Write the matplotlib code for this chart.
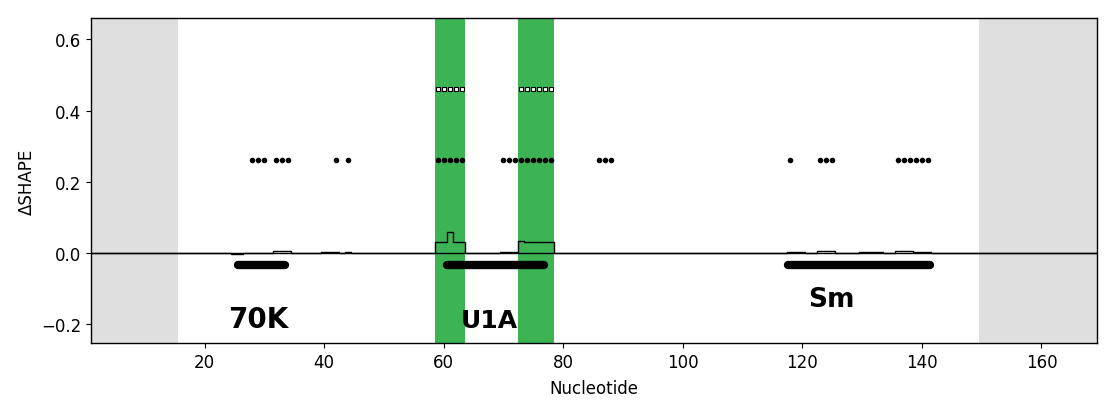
import numpy as np
import matplotlib.pyplot as plt

# nukleotidai su pokyciu (kiti = 0)
delta_nt = [25, 26, 27, 28, 29, 30, 31, 32, 33, 34, 40, 41, 42, 44,
            59, 60, 61, 62, 63, 70, 71, 72, 73, 74, 75, 76, 77, 78,
            118, 119, 120, 123, 124, 125, 130, 131, 132, 133,
            136, 137, 138, 139, 140, 141]
delta_val = [-0.003, -0.003, 0.001, 0.001, 0.001, 0.001, 0.001, 0.005, 0.005, 0.005, 0.002, 0.002, 0.002, 0.002,
             0.030, 0.030, 0.060, 0.030, 0.030, 0.002, 0.004, 0.004, 0.033, 0.030, 0.030, 0.030, 0.030, 0.030,
             0.002, 0.002, 0.002, 0.005, 0.005, 0.005, 0.002, 0.002, 0.002, 0.002,
             0.005, 0.005, 0.005, 0.002, 0.002, 0.002]

# reiksmingi taskai
dot_nt = [28, 29, 30, 32, 33, 34, 42, 44, 59, 60, 61, 62, 63,
          70, 71, 72, 73, 74, 75, 76, 77, 78, 86, 87, 88,
          118, 123, 124, 125, 136, 137, 138, 139, 140, 141]
square_nt = [59, 60, 61, 62, 63, 73, 74, 75, 76, 77, 78]
dot_y = 0.26
square_y = 0.46

# zalios juostos ir pilkos sritys
green_spans = [(58.5, 63.5), (72.5, 78.5)]
gray_spans = [(0, 15.5), (149.5, 175)]

# rankiniu budu pazymetos sritys
site_lines = [(25.6, 33.4), (60.6, 76.8), (117.6, 141.4)]
site_labels = ['70K', 'U1A', 'Sm']
label_x = [29, 67.7, 124.9]
label_y = [-0.185, -0.187, -0.13]
label_size = [20, 18, 19]

nt = np.arange(0, 172)
vals = np.zeros(len(nt))
vals[delta_nt] = delta_val

fig = plt.figure(figsize=(11.15, 4.14), dpi=100)
ax = fig.add_axes([0.0816, 0.169, 0.9023, 0.785])

for a, b in gray_spans:
    ax.axvspan(a, b, color='#dfdfdf', lw=0, zorder=0)
for a, b in green_spans:
    ax.axvspan(a, b, color='#3db454', lw=0, zorder=0)

ax.axhline(0, color='black', lw=1, zorder=2)
ax.step(nt, vals, where='mid', color='black', lw=1, zorder=3)

ax.plot(dot_nt, [dot_y] * len(dot_nt), 'o', color='black', ms=3, zorder=4)
ax.plot(square_nt, [square_y] * len(square_nt), 's', mfc='white', mec='black',
        mew=0.8, ms=2.8, zorder=4)

for a, b in site_lines:
    ax.plot([a, b], [-0.035, -0.035], color='black', lw=6,
            solid_capstyle='round', zorder=4)

for t, x, y, s in zip(site_labels, label_x, label_y, label_size):
    ax.text(x, y, t, fontsize=s, fontweight='bold', ha='center', va='center',
            color='black', zorder=5)

ax.set_xlim(1, 169.3)
ax.set_ylim(-0.253, 0.66)
ax.set_xticks([20, 40, 60, 80, 100, 120, 140, 160])
ax.set_yticks([-0.2, 0.0, 0.2, 0.4, 0.6])
ax.tick_params(labelsize=12)
ax.set_xlabel('Nucleotide', fontsize=12, labelpad=6)
ax.set_ylabel('ΔSHAPE', fontsize=12)
for s in ax.spines.values():
    s.set_linewidth(1)

fig.savefig('out.png', dpi=100)
